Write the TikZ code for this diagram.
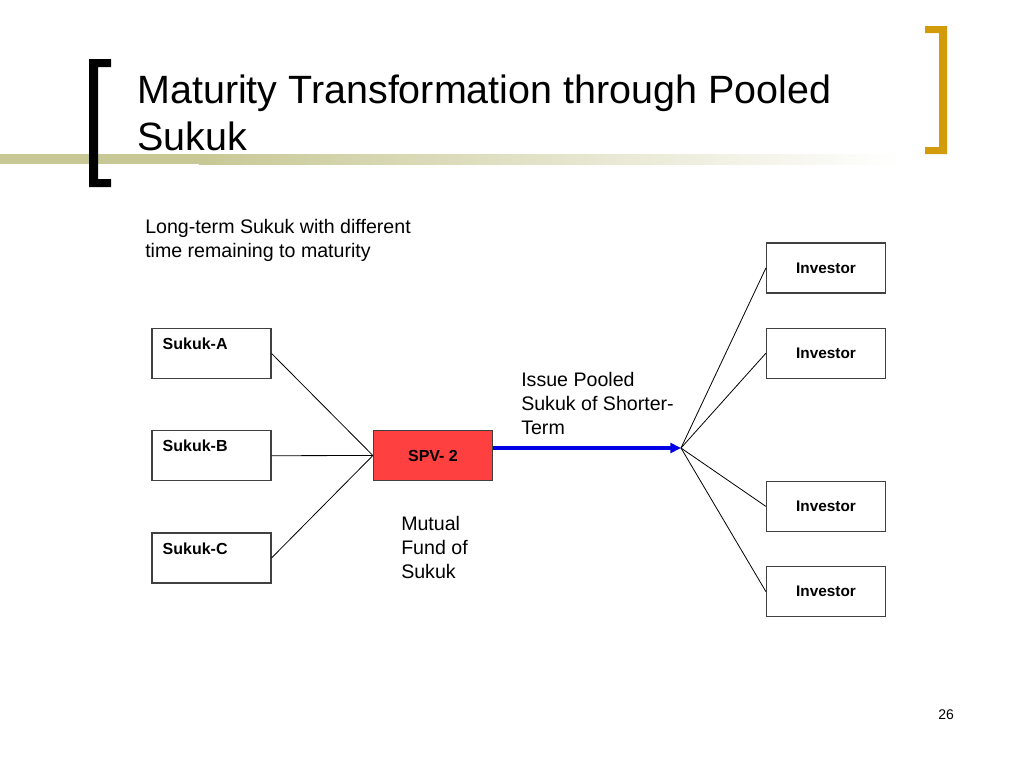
\documentclass[tikz,border=0pt]{standalone}
\usepackage{fontspec}
\setmainfont{Liberation Sans}
\usepackage{tikz}
\usetikzlibrary{arrows.meta,positioning}

\definecolor{olivebar}{RGB}{200,200,150}
\definecolor{goldbar}{RGB}{210,155,10}
\definecolor{spvred}{RGB}{255,64,64}
\definecolor{arrowblue}{RGB}{0,0,230}

\begin{document}
\begin{tikzpicture}[
        x=0.75pt, y=-0.75pt,
        every node/.style={align=left},
        box/.style={draw=black!75, line width=0.9pt, minimum width=89.25pt, minimum height=37.5pt, inner sep=0pt},
        boxtext/.style={font=\bfseries\fontsize{11.5}{14}\selectfont},
        sukuklbl/.style={anchor=north west, inner sep=0pt, xshift=8.25pt, yshift=-7.5pt, font=\bfseries\fontsize{12}{14}\selectfont},
        note/.style={anchor=north west, inner sep=0pt, font=\fontsize{14.7}{18}\selectfont},
        feed/.style={black, line width=0.6pt},
        issue/.style={arrowblue, line width=2.8pt, -{Triangle[length=8pt,width=7.5pt]}}
    ]
    \useasboundingbox (0,0) rectangle (1024,768);

    % Title bar and brackets
    \fill[olivebar] (0,154) rectangle (200,164);
    \shade[left color=olivebar, right color=white] (199,154) rectangle (900,164);
    \fill[black] (89,59) -- (111,59) -- (111,67) -- (98,67) -- (98,179) -- (111,179)
        -- (111,187) -- (89,187) -- cycle;
    \fill[goldbar] (947,26) -- (925,26) -- (925,33) -- (939,33) -- (939,147) -- (925,147)
        -- (925,154) -- (947,154) -- cycle;
    \node[anchor=north west, inner sep=0pt, font=\fontsize{29.6}{35}\selectfont] (title) at (137,75)
        {Maturity Transformation through Pooled\\Sukuk};

    % Nodes
    \node[note] (longterm) at (145,219) {Long-term Sukuk with different\\time remaining to maturity};

    \node[box] (sukA) at (211.5,353.5) {};
    \node[box, below=38.25pt of sukA] (sukB) {};
    \node[box, below=38.25pt of sukB] (sukC) {};
    \node[sukuklbl] (sukAtxt) at (sukA.north west) {Sukuk-A};
    \node[sukuklbl] (sukBtxt) at (sukB.north west) {Sukuk-B};
    \node[sukuklbl] (sukCtxt) at (sukC.north west) {Sukuk-C};

    \node[box, fill=spvred, font=\bfseries\fontsize{12}{14}\selectfont] (spv) at (433,455.5) {SPV- 2};
    \node[note] (mutual) at (401,516) {Mutual\\Fund of\\Sukuk};
    \node[note] (pooled) at (521,372) {Issue Pooled\\Sukuk of Shorter-\\Term};

    \node[box, boxtext] (inv1) at (826,268) {Investor};
    \node[box, boxtext, below=25.5pt of inv1] (inv2) {Investor};
    \node[box, boxtext, below=76.5pt of inv2] (inv3) {Investor};
    \node[box, boxtext, below=25.5pt of inv3] (inv4) {Investor};

    \coordinate (fan) at (681,448);

    \node[anchor=base west, inner sep=0pt, font=\fontsize{10.5}{12}\selectfont] (page) at (938,719) {26};

    % Edges
    \draw[feed] (sukA.east) -- (spv.west);
    \draw[feed] (sukB.east) -- (spv.west);
    \draw[feed] (sukC.east) -- (spv.west);
    \draw[issue] (spv.east |- fan) -- (fan);
    \draw[feed] (fan) -- (inv1.west);
    \draw[feed] (fan) -- (inv2.west);
    \draw[feed] (fan) -- (inv3.west);
    \draw[feed] (fan) -- (inv4.west);

\end{tikzpicture}
\end{document}
